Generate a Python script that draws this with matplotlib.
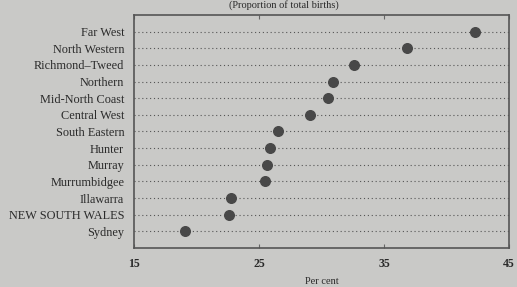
import matplotlib
matplotlib.use("Agg")
import matplotlib.pyplot as plt

regions = ["Far West", "North Western", "Richmond\u2013Tweed", "Northern",
           "Mid-North Coast", "Central West", "South Eastern", "Hunter",
           "Murray", "Murrumbidgee", "Illawarra", "NEW SOUTH WALES", "Sydney"]
values = [42.3, 36.8, 32.6, 30.9, 30.5, 29.1, 26.5, 25.9, 25.6, 25.5, 22.8, 22.6, 19.1]
xticks = [15, 25, 35, 45]

bg = "#c9c9c7"
ink = "#2a2a2a"

plt.rcParams["font.family"] = ["Liberation Serif", "DejaVu Serif"]

fig = plt.figure(figsize=(5.17, 2.87), dpi=100, facecolor=bg)
ax = fig.add_axes([0.259, 0.136, 0.726, 0.812], facecolor=bg)

n = len(regions)
ypos = [n - i for i in range(n)]

for y in ypos:
    ax.axhline(y, color="#555555", linestyle=(0, (1, 2.5)), linewidth=0.8, zorder=1)

ax.scatter(values, ypos, s=48, color="#484848", zorder=3)

ax.set_xlim(15, 45)
ax.set_ylim(0, n + 1)
ax.set_yticks(ypos)
ax.set_yticklabels(regions, fontsize=8.8, color=ink)
ax.set_xticks(xticks)
ax.set_xticklabels([str(t) for t in xticks], fontsize=8.5, color=ink, fontweight="bold")
ax.tick_params(axis="y", length=0, pad=7)
ax.tick_params(axis="x", direction="in", length=3, color="#666666", top=True, pad=7)
ax.set_xlabel("Per cent", fontsize=7.5, color=ink, labelpad=5)

for side in ["left", "bottom", "right", "top"]:
    ax.spines[side].set_color("#555555")
    ax.spines[side].set_linewidth(1.2)

fig.text(0.55, 1.0, "(Proportion of total births)", fontsize=7.5, color=ink,
         ha="center", va="top")

fig.savefig("out.png", dpi=100, facecolor=bg)
